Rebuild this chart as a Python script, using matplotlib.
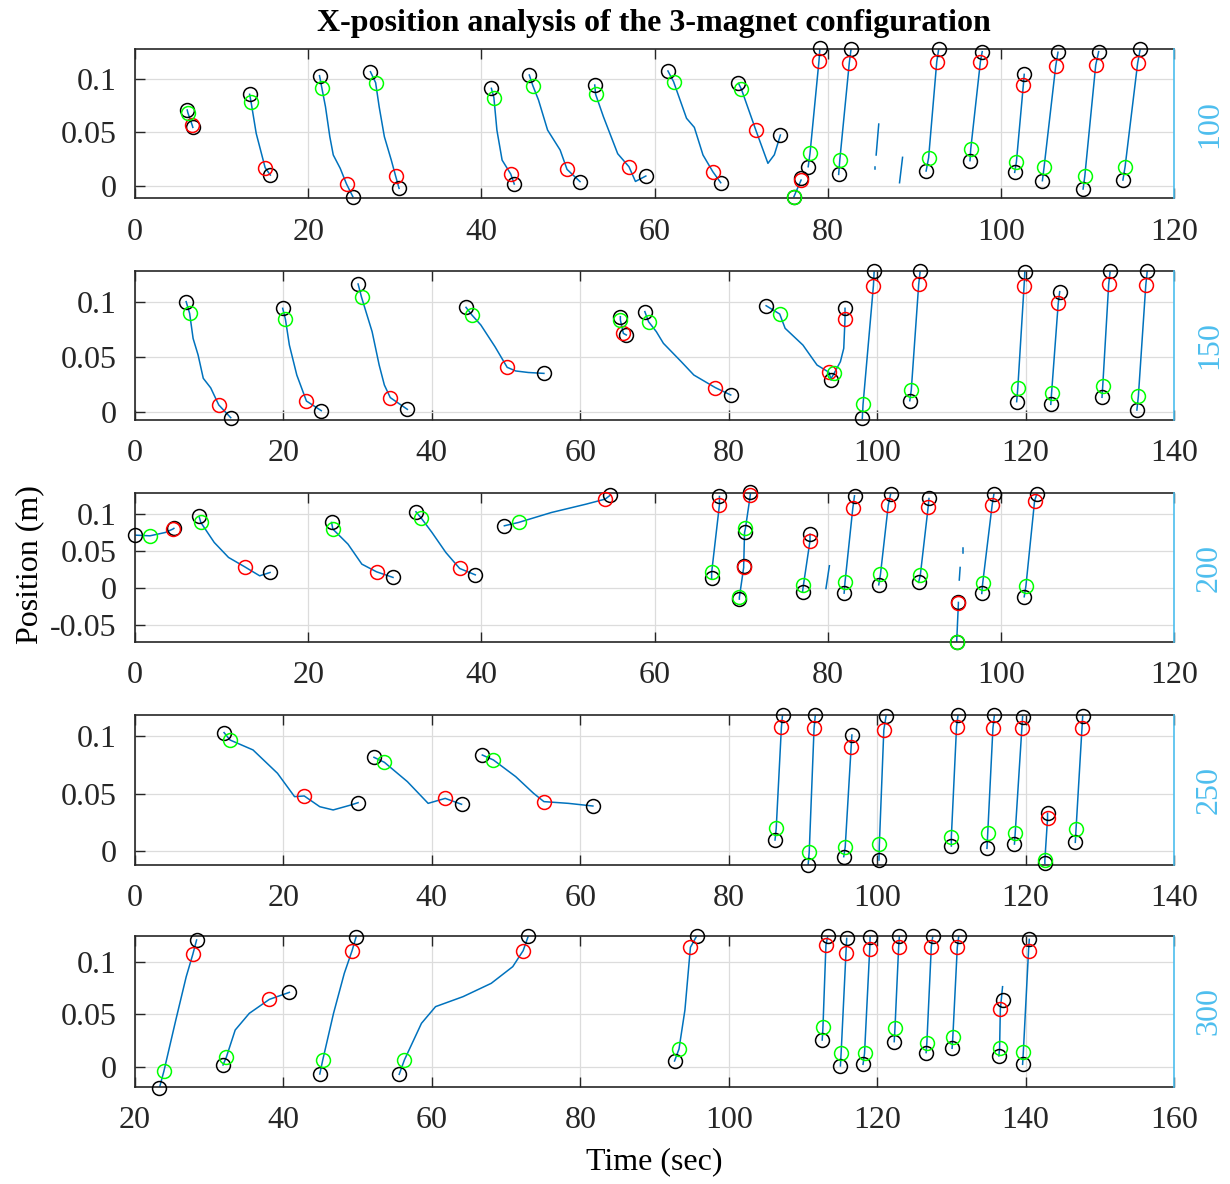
import matplotlib
matplotlib.use("Agg")
import matplotlib.pyplot as plt

plt.rcParams['font.family'] = ['Liberation Serif', 'DejaVu Serif']
plt.rcParams['axes.unicode_minus'] = False

# ---- data (time in s, position in m) ----
p1_lines = [
    [(6.03, 0.071), (6.1, 0.0685), (6.6, 0.0569), (6.68, 0.0547)],
    [(13.24, 0.0857), (13.41, 0.0782), (14.0, 0.049), (15.03, 0.0169), (15.63, 0.0100)],
    [(21.31, 0.1032), (21.59, 0.0913), (22.0, 0.074), (22.5, 0.046), (22.9, 0.0288), (23.7, 0.0163), (24.43, 0.0016), (25.16, -0.0103)],
    [(27.19, 0.1069), (27.79, 0.0966), (28.2, 0.074), (28.8, 0.046), (29.6, 0.024), (30.1, 0.0091), (30.5, -0.0025)],
    [(41.16, 0.0913), (41.45, 0.0826), (41.8, 0.052), (42.4, 0.024), (43.4, 0.0109), (43.8, 0.0016)],
    [(45.54, 0.1038), (45.95, 0.0938), (46.6, 0.0804), (47.65, 0.0522), (49.1, 0.0335), (49.9, 0.0153), (51.4, 0.0038)],
    [(53.1, 0.0944), (53.2, 0.0857), (54.1, 0.0647), (55.75, 0.030), (57.05, 0.0178), (57.8, 0.004), (59.0, 0.0091)],
    [(61.55, 0.1076), (62.2, 0.0976), (63.7, 0.0632), (64.6, 0.0547), (65.6, 0.0288), (66.74, 0.0131), (67.65, 0.0028)],
    [(69.7, 0.096), (70.04, 0.0904), (71.7, 0.0522), (73.1, 0.021), (73.84, 0.029), (74.54, 0.0475)],
    [(76.1, -0.0103), (76.93, 0.0053)],
    [(77.75, 0.0178), (77.96, 0.0303), (79.0, 0.1173), (79.1, 0.1288)],
    [(81.27, 0.0106), (81.4, 0.0241), (82.5, 0.1154), (82.7, 0.1279)],
    [(85.9, 0.0578), (85.6, 0.0288)],
    [(85.5, 0.018), (85.5, 0.016)],
    [(88.65, 0.0266), (88.3, 0.0028)],
    [(91.37, 0.0138), (91.66, 0.0263), (92.6, 0.1163), (92.82, 0.1279)],
    [(96.44, 0.0235), (96.52, 0.0341), (97.64, 0.1163), (97.85, 0.1257)],
    [(101.6, 0.0125), (101.8, 0.0225), (102.6, 0.0944), (102.7, 0.1044)],
    [(104.8, 0.0047), (105.0, 0.0178), (106.34, 0.1123), (106.6, 0.1251)],
    [(109.5, -0.0031), (109.7, 0.0091), (110.96, 0.1132), (111.3, 0.1257)],
    [(114.1, 0.0053), (114.35, 0.0178), (115.8, 0.1148), (116.1, 0.1282)],
]
p1_black = [(6.03, 0.071), (6.68, 0.0547), (13.24, 0.0857), (15.63, 0.0100), (21.31, 0.1032), (25.16, -0.0103),
            (27.19, 0.1069), (30.5, -0.0025), (41.16, 0.0913), (43.8, 0.0016), (45.54, 0.1038), (51.4, 0.0038),
            (53.1, 0.0944), (59.0, 0.0091), (61.55, 0.1076), (67.65, 0.0028), (69.7, 0.096), (74.54, 0.0475),
            (76.1, -0.0103), (76.93, 0.0068), (77.75, 0.0178), (79.1, 0.1288), (81.27, 0.0106), (82.7, 0.1279),
            (91.37, 0.0138), (92.82, 0.1279), (96.44, 0.0235), (97.85, 0.1257), (101.6, 0.0125), (102.7, 0.1044),
            (104.8, 0.0047), (106.6, 0.1251), (109.5, -0.0031), (111.3, 0.1257), (114.1, 0.0053), (116.1, 0.1282)]
p1_green = [(6.1, 0.0685), (13.41, 0.0782), (21.59, 0.0913), (27.79, 0.0966), (41.45, 0.0826), (45.95, 0.0938),
            (53.2, 0.0857), (62.2, 0.0976), (70.04, 0.0904), (76.1, -0.0103), (77.96, 0.0303), (81.4, 0.0241),
            (91.66, 0.0263), (96.52, 0.0341), (101.8, 0.0225), (105.0, 0.0178), (109.7, 0.0091), (114.35, 0.0178)]
p1_red = [(6.6, 0.0569), (15.03, 0.0169), (24.43, 0.0016), (30.1, 0.0091), (43.4, 0.0109), (49.9, 0.0153),
          (57.05, 0.0178), (66.74, 0.0131), (71.7, 0.0522), (76.93, 0.0053), (79.0, 0.1173), (82.5, 0.1154),
          (92.6, 0.1163), (97.64, 0.1163), (102.6, 0.0944), (106.34, 0.1123), (110.96, 0.1132), (115.8, 0.1148)]

p2_lines = [
    [(6.89, 0.1006), (7.36, 0.0899), (7.83, 0.067), (8.5, 0.052), (9.2, 0.0307), (10.2, 0.022), (11.29, 0.0064), (12.9, -0.0052)],
    [(19.9, 0.0945), (20.27, 0.0845), (20.8, 0.061), (21.8, 0.0337), (23.1, 0.010), (25.1, 0.0012)],
    [(30.06, 0.1167), (30.53, 0.1045), (31.95, 0.0732), (32.9, 0.0428), (33.6, 0.0246), (34.4, 0.0131), (36.7, 0.0024)],
    [(44.6, 0.0954), (45.4, 0.0884), (46.6, 0.0793), (48.5, 0.0596), (50.15, 0.0407), (51.3, 0.0374), (53.0, 0.036), (55.1, 0.0352)],
    [(65.4, 0.0869), (65.4, 0.0839), (65.8, 0.0717), (66.2, 0.0702)],
    [(68.7, 0.0915), (69.2, 0.0823), (70.25, 0.0732), (71.2, 0.0626), (73.6, 0.0459), (75.3, 0.0337), (78.2, 0.0222), (80.27, 0.0155)],
    [(85.04, 0.0969), (86.87, 0.0893), (87.6, 0.0763), (90.0, 0.061), (91.9, 0.0428), (93.5, 0.0362), (93.8, 0.0292)],
    [(93.8, 0.0305), (94.2, 0.0352), (95.05, 0.0459), (95.5, 0.058), (95.67, 0.0848), (95.67, 0.0945)],
    [(98.0, -0.0058), (98.1, 0.007), (99.5, 0.1152), (99.6, 0.1288)],
    [(104.4, 0.0103), (104.6, 0.0201), (105.6, 0.1164), (105.8, 0.1285)],
    [(118.8, 0.0094), (118.95, 0.0216), (119.8, 0.1152), (119.9, 0.1279)],
    [(123.4, 0.007), (123.5, 0.017), (124.4, 0.099), (124.6, 0.1097)],
    [(130.3, 0.0134), (130.4, 0.024), (131.2, 0.1164), (131.4, 0.1285)],
    [(135.0, 0.0018), (135.2, 0.0146), (136.2, 0.1158), (136.4, 0.1288)],
]
p2_black = [(6.89, 0.1006), (12.9, -0.0052), (19.9, 0.0945), (25.1, 0.0012), (30.06, 0.1167), (36.7, 0.0024),
            (44.6, 0.0954), (55.1, 0.0352), (65.4, 0.0869), (66.2, 0.0702), (68.7, 0.0915), (80.27, 0.0155),
            (85.04, 0.0969), (93.8, 0.0292), (95.67, 0.0945), (98.0, -0.0058), (99.6, 0.1288), (104.4, 0.0103),
            (105.8, 0.1285), (118.8, 0.0094), (119.9, 0.1279), (123.4, 0.007), (124.6, 0.1097), (130.3, 0.0134),
            (131.4, 0.1285), (135.0, 0.0018), (136.4, 0.1288)]
p2_green = [(7.36, 0.0899), (20.27, 0.0845), (30.53, 0.1045), (45.4, 0.0884), (65.4, 0.0839), (69.2, 0.0823),
            (86.87, 0.0893), (94.2, 0.0352), (98.1, 0.007), (104.6, 0.0201), (118.95, 0.0216), (123.5, 0.017),
            (130.4, 0.024), (135.2, 0.0146)]
p2_red = [(11.29, 0.0064), (23.1, 0.010), (34.4, 0.0131), (50.15, 0.0407), (65.8, 0.0717), (78.2, 0.0222),
          (93.5, 0.0362), (95.67, 0.0848), (99.5, 0.1152), (105.6, 0.1164), (119.8, 0.1152), (124.4, 0.099),
          (131.2, 0.1164), (136.2, 0.1158)]

p3_lines = [
    [(0.0, 0.0718), (1.73, 0.0709), (3.5, 0.0754), (4.37, 0.08), (4.49, 0.081)],
    [(7.4, 0.0971), (7.6, 0.089), (9.15, 0.0619), (10.8, 0.0416), (12.67, 0.0289), (14.4, 0.0167), (15.6, 0.0212)],
    [(22.7, 0.089), (22.85, 0.08), (24.6, 0.0596), (26.2, 0.0325), (27.9, 0.0221), (29.8, 0.0145)],
    [(32.45, 0.1034), (33.06, 0.0949), (34.3, 0.0754), (35.9, 0.0483), (37.5, 0.0266), (39.3, 0.018)],
    [(42.66, 0.0845), (44.3, 0.089), (48.1, 0.1025), (52.1, 0.1138), (54.3, 0.1206), (54.9, 0.126)],
    [(66.6, 0.0131), (66.6, 0.0212), (67.5, 0.1129), (67.5, 0.1242)],
    [(69.8, -0.0149), (69.8, -0.0126), (70.3, 0.028), (70.3, 0.0303), (70.4, 0.0754), (70.5, 0.0808), (71.07, 0.1265), (71.07, 0.1296)],
    [(77.1, -0.005), (77.2, 0.0041), (77.96, 0.0641), (77.96, 0.0732)],
    [(80.2, 0.0303), (79.8, -0.0005)],
    [(81.9, -0.0068), (82.0, 0.0077), (82.9, 0.108), (83.1, 0.1251)],
    [(85.9, 0.0045), (86.1, 0.019), (87.0, 0.1125), (87.27, 0.1274)],
    [(90.5, 0.0077), (90.7, 0.0176), (91.6, 0.1093), (91.7, 0.1215)],
    [(95.6, 0.0537), (95.6, 0.048)],
    [(95.3, 0.028), (95.2, 0.011)],
    [(94.9, -0.0736), (94.9, -0.0727), (95.1, -0.0203), (95.1, -0.0194)],
    [(97.8, -0.0072), (97.9, 0.0063), (99.0, 0.1129), (99.2, 0.1274)],
    [(102.7, -0.0117), (102.9, 0.0032), (103.9, 0.1183), (104.15, 0.1274)],
]
p3_black = [(0.0, 0.0718), (4.49, 0.081), (7.4, 0.0971), (15.6, 0.0212), (22.7, 0.089), (29.8, 0.0145),
            (32.45, 0.1034), (39.3, 0.018), (42.66, 0.0845), (54.9, 0.126), (66.6, 0.0131), (67.5, 0.1242),
            (69.8, -0.0149), (70.3, 0.0303), (70.4, 0.0754), (71.07, 0.1296), (77.1, -0.005), (77.96, 0.0732),
            (81.9, -0.0068), (83.1, 0.1251), (85.9, 0.0045), (87.27, 0.1274), (90.5, 0.0077), (91.7, 0.1215),
            (94.9, -0.0736), (95.1, -0.0194), (97.8, -0.0072), (99.2, 0.1274), (102.7, -0.0117), (104.15, 0.1274)]
p3_green = [(1.73, 0.0709), (7.6, 0.089), (22.85, 0.08), (33.06, 0.0949), (44.3, 0.089), (66.6, 0.0212),
            (69.8, -0.0126), (70.5, 0.0808), (77.2, 0.0041), (82.0, 0.0077), (86.1, 0.019), (90.7, 0.0176),
            (94.9, -0.0727), (97.9, 0.0063), (102.9, 0.0032)]
p3_red = [(4.37, 0.08), (12.67, 0.0289), (27.9, 0.0221), (37.5, 0.0266), (54.3, 0.1206), (67.5, 0.1129),
          (70.3, 0.028), (71.07, 0.1265), (77.96, 0.0641), (82.9, 0.108), (87.0, 0.1125), (91.6, 0.1093),
          (95.1, -0.0203), (99.0, 0.1129), (103.9, 0.1183)]

p4_lines = [
    [(12.0, 0.1027), (12.8, 0.0963), (15.9, 0.0877), (19.2, 0.0675), (21.5, 0.0473), (22.8, 0.0479), (24.9, 0.0386), (26.7, 0.0358), (29.1, 0.0401), (30.06, 0.0421)],
    [(32.2, 0.0813), (33.6, 0.077), (36.7, 0.0603), (39.5, 0.0415), (41.8, 0.0458), (44.0, 0.0407)],
    [(46.8, 0.0833), (48.3, 0.079), (51.3, 0.0646), (53.7, 0.0502), (55.1, 0.043), (58.4, 0.0415), (61.7, 0.0392)],
    [(86.24, 0.0098), (86.4, 0.0199), (87.1, 0.1073), (87.25, 0.1179)],
    [(90.7, -0.0118), (90.85, -0.0003), (91.5, 0.1064), (91.67, 0.1179)],
    [(95.5, -0.0046), (95.7, 0.004), (96.5, 0.0905), (96.6, 0.1006)],
    [(100.25, -0.0075), (100.3, 0.0063), (100.9, 0.105), (101.2, 0.1171)],
    [(110.0, 0.0046), (110.0, 0.0127), (110.7, 0.1078), (110.9, 0.1179)],
    [(114.8, 0.0026), (114.9, 0.0156), (115.6, 0.1064), (115.8, 0.1179)],
    [(118.5, 0.0063), (118.6, 0.0156), (119.5, 0.1064), (119.6, 0.1165)],
    [(122.6, -0.0104), (122.6, -0.0075), (122.96, 0.0285), (122.96, 0.0329)],
    [(126.7, 0.0078), (126.8, 0.0193), (127.6, 0.1064), (127.7, 0.1171)],
]
p4_black = [(12.0, 0.1027), (30.06, 0.0421), (32.2, 0.0813), (44.0, 0.0407), (46.8, 0.0833), (61.7, 0.0392),
            (86.24, 0.0098), (87.25, 0.1179), (90.7, -0.0118), (91.67, 0.1179), (95.5, -0.0046), (96.6, 0.1006),
            (100.25, -0.0075), (101.2, 0.1171), (110.0, 0.0046), (110.9, 0.1179), (114.8, 0.0026), (115.8, 0.1179),
            (118.5, 0.0063), (119.6, 0.1165), (122.6, -0.0104), (122.96, 0.0329), (126.7, 0.0078), (127.7, 0.1171)]
p4_green = [(12.8, 0.0963), (33.6, 0.077), (48.3, 0.079), (86.4, 0.0199), (90.85, -0.0003), (95.7, 0.004),
            (100.3, 0.0063), (110.0, 0.0127), (114.9, 0.0156), (118.6, 0.0156), (122.6, -0.0075), (126.8, 0.0193)]
p4_red = [(22.8, 0.0479), (41.8, 0.0458), (55.1, 0.043), (87.1, 0.1073), (91.5, 0.1064), (96.5, 0.0905),
          (100.9, 0.105), (110.7, 0.1078), (115.6, 0.1064), (119.5, 0.1064), (122.96, 0.0285), (127.6, 0.1064)]

p5_lines = [
    [(23.3, -0.0197), (23.9, -0.0038), (25.5, 0.0448), (26.9, 0.086), (27.8, 0.1076), (28.3, 0.121)],
    [(31.86, 0.0019), (32.3, 0.0092), (33.5, 0.0352), (35.4, 0.0511), (38.1, 0.0644), (40.8, 0.0711)],
    [(44.9, -0.0067), (45.3, 0.0067), (46.75, 0.0511), (48.2, 0.0892), (49.25, 0.1108), (49.8, 0.1241)],
    [(55.6, -0.007), (56.3, 0.0067), (58.6, 0.0416), (60.5, 0.0575), (64.2, 0.067), (68.0, 0.0797), (70.9, 0.0956), (72.3, 0.1108), (73.0, 0.1248)],
    [(92.7, 0.0057), (93.3, 0.0171), (94.1, 0.0543), (94.84, 0.114), (95.7, 0.125)],
    [(112.6, 0.0257), (112.7, 0.0384), (113.1, 0.1162), (113.35, 0.1248)],
    [(115.05, 0.001), (115.15, 0.0137), (115.8, 0.1089), (115.9, 0.1225)],
    [(118.1, 0.0025), (118.3, 0.013), (119.0, 0.1124), (119.05, 0.1235)],
    [(122.3, 0.0241), (122.4, 0.0368), (122.9, 0.1146), (123.0, 0.1248)],
    [(126.6, 0.0137), (126.7, 0.0232), (127.3, 0.1146), (127.5, 0.1248)],
    [(130.1, 0.0178), (130.2, 0.0289), (130.8, 0.114), (131.0, 0.1248)],
    [(136.4, 0.0105), (136.5, 0.0178), (136.6, 0.0549), (136.9, 0.0765)],
    [(139.6, 0.0025), (139.7, 0.0146), (140.4, 0.1108), (140.5, 0.1216)],
]
p5_black = [(23.3, -0.0197), (28.3, 0.121), (31.86, 0.0019), (40.8, 0.0711), (44.9, -0.0067), (49.8, 0.1241),
            (55.6, -0.007), (73.0, 0.1248), (92.7, 0.0057), (95.7, 0.125), (112.6, 0.0257), (113.35, 0.1248),
            (115.05, 0.001), (115.9, 0.1225), (118.1, 0.0025), (119.05, 0.1235), (122.3, 0.0241), (123.0, 0.1248),
            (126.6, 0.0137), (127.5, 0.1248), (130.1, 0.0178), (131.0, 0.1248), (136.4, 0.0105), (136.95, 0.0638),
            (139.6, 0.0025), (140.5, 0.1216)]
p5_green = [(23.9, -0.0038), (32.3, 0.0092), (45.3, 0.0067), (56.3, 0.0067), (93.3, 0.0171), (112.7, 0.0384),
            (115.15, 0.0137), (118.3, 0.013), (122.4, 0.0368), (126.7, 0.0232), (130.2, 0.0289), (136.5, 0.0178),
            (139.7, 0.0146)]
p5_red = [(27.8, 0.1076), (38.1, 0.0644), (49.25, 0.1108), (72.3, 0.1108), (94.84, 0.114), (113.1, 0.1162),
          (115.8, 0.1089), (119.0, 0.1124), (122.9, 0.1146), (127.3, 0.1146), (130.8, 0.114), (136.6, 0.0549),
          (140.4, 0.1108)]

panel_labels = ['100', '150', '200', '250', '300']
panel_xlims = [(0, 120), (0, 140), (0, 120), (0, 140), (20, 160)]
panel_ylims = [(-0.0118, 0.1279), (-0.0073, 0.1288), (-0.0726, 0.1285), (-0.0118, 0.1179), (-0.0188, 0.1248)]
panel_yticks = [[0, 0.05, 0.1], [0, 0.05, 0.1], [-0.05, 0, 0.05, 0.1], [0, 0.05, 0.1], [0, 0.05, 0.1]]
ytick_text = {-0.05: '-0.05', 0: '0', 0.05: '0.05', 0.1: '0.1'}

panels = [
    (p1_lines, p1_black, p1_green, p1_red),
    (p2_lines, p2_black, p2_green, p2_red),
    (p3_lines, p3_black, p3_green, p3_red),
    (p4_lines, p4_black, p4_green, p4_red),
    (p5_lines, p5_black, p5_green, p5_red),
]

# axes boxes in pixels (top, bottom) of a 1230x1184 canvas
W, H = 1230, 1184
boxes = [(49.3, 198.3), (270.7, 420.0), (493.3, 641.7), (715.0, 865.0), (936.0, 1086.7)]
LEFT, RIGHT = 135, 1174

LINE_BLUE = '#0072BD'
RIGHT_BLUE = '#4DBEEE'
FS = 23

fig = plt.figure(figsize=(W / 100, H / 100), dpi=100)

for i, (lines, black, green, red) in enumerate(panels):
    top, bot = boxes[i]
    ax = fig.add_axes([LEFT / W, 1 - bot / H, (RIGHT - LEFT) / W, (bot - top) / H])

    for seg in lines:
        ts, xs = zip(*seg)
        ax.plot(ts, xs, color=LINE_BLUE, lw=1.1)
    for pts, col in ((black, 'k'), (red, '#FF0000'), (green, '#00FF00')):
        ts, xs = zip(*pts)
        ax.plot(ts, xs, 'o', mfc='none', mec=col, ms=10, mew=1.1, clip_on=False, zorder=3)

    x0, x1 = panel_xlims[i]
    ax.set_xlim(x0, x1)
    ax.set_ylim(*panel_ylims[i])
    ax.set_xticks(range(x0, x1 + 1, 20))
    ax.set_yticks(panel_yticks[i])
    ax.set_yticklabels([ytick_text[v] for v in panel_yticks[i]])
    ax.grid(True, color='#dcdcdc', lw=0.9)
    ax.set_axisbelow(True)
    ax.tick_params(axis='both', direction='in', length=7, width=1, colors='#262626', labelsize=FS)
    ax.tick_params(axis='x', top=True, pad=14)
    ax.tick_params(axis='y', right=False, pad=13)
    for s in ('left', 'bottom', 'top'):
        ax.spines[s].set_color('#262626')
        ax.spines[s].set_linewidth(1.2)
    ax.spines['right'].set_visible(False)

    # right-hand axis just carries the run label, like a yyaxis in MATLAB
    ax2 = ax.twinx()
    ax2.set_yticks([])
    for s in ('left', 'bottom', 'top'):
        ax2.spines[s].set_visible(False)
    ax2.spines['right'].set_color(RIGHT_BLUE)
    ax2.spines['right'].set_linewidth(1.2)
    ax2.set_ylabel(panel_labels[i], color=RIGHT_BLUE, fontsize=FS, labelpad=15)

fig.text(654 / W, 1 - 23 / H, 'X-position analysis of the 3-magnet configuration',
         ha='center', va='center', fontsize=FS, fontweight='bold')
fig.text(654 / W, 1 - 1162 / H, 'Time (sec)', ha='center', va='center', fontsize=FS)
fig.text(30 / W, 1 - 565 / H, 'Position (m)', ha='center', va='center', fontsize=FS, rotation=90)

fig.savefig('out.png', dpi=100)
